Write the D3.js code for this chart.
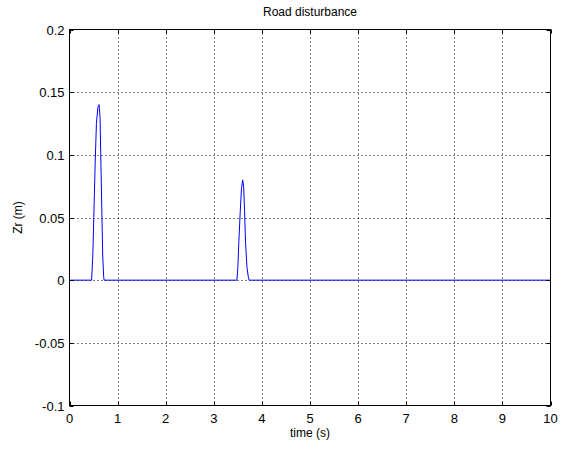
<!DOCTYPE html>
<html><head><meta charset="utf-8">
<script src="https://cdn.jsdelivr.net/npm/d3@7"></script>
<style>body{margin:0;background:#fff;} text{font-family:"Liberation Sans",Arial,sans-serif;}</style>
</head><body><svg id="c" width="561" height="452"></svg>
<script>
const timeVals = [0, 0.46, 0.485, 0.505, 0.535, 0.56, 0.59, 0.615, 0.635, 0.65, 0.67, 0.69, 0.71, 0.72,
                  3.48, 3.50, 3.52, 3.55, 3.575, 3.60, 3.62, 3.64, 3.66, 3.69, 3.72, 3.735, 10];
const zrVals   = [0, 0, 0.02, 0.05, 0.095, 0.125, 0.138, 0.14, 0.13, 0.10, 0.06, 0.02, 0.003, 0,
                  0, 0.01, 0.03, 0.055, 0.073, 0.08, 0.075, 0.055, 0.03, 0.01, 0.002, 0, 0];
const xTicks = [0,1,2,3,4,5,6,7,8,9,10];
const yTicks = [-0.1,-0.05,0,0.05,0.1,0.15,0.2];
const yTickLabels = ["-0.1","-0.05","0","0.05","0.1","0.15","0.2"];

const L=69.5, R=550.5, T=29.5, B=405.5;
const svg=d3.select("#c");
const x=d3.scaleLinear().domain([0,10]).range([L,R]);
const y=d3.scaleLinear().domain([-0.1,0.2]).range([B,T]);

// grid
const g=svg.append("g");
g.selectAll(".vx").data(xTicks.slice(1,-1)).join("line")
 .attr("x1",d=>Math.round(x(d))+0.5).attr("x2",d=>Math.round(x(d))+0.5).attr("y1",T).attr("y2",B)
 .attr("stroke","#000").attr("stroke-width",1).attr("stroke-dasharray","1,3");
g.selectAll(".hy").data(yTicks.slice(1,-1)).join("line")
 .attr("y1",d=>Math.round(y(d))+0.5).attr("y2",d=>Math.round(y(d))+0.5).attr("x1",L).attr("x2",R)
 .attr("stroke","#000").attr("stroke-width",1).attr("stroke-dasharray","1,3");

// line
const line=d3.line().x((d,i)=>x(timeVals[i])).y(d=>y(d));
svg.append("path").attr("d",line(zrVals)).attr("fill","none").attr("stroke","#0000ff").attr("stroke-width",1);

// box
svg.append("rect").attr("x",L).attr("y",T).attr("width",R-L).attr("height",B-T)
 .attr("fill","none").attr("stroke","#000").attr("stroke-width",1);

// ticks inside
const tl=4;
xTicks.forEach(d=>{
  const px=Math.round(x(d))+0.5;
  svg.append("line").attr("x1",px).attr("x2",px).attr("y1",B).attr("y2",B-tl).attr("stroke","#000");
  svg.append("line").attr("x1",px).attr("x2",px).attr("y1",T).attr("y2",T+tl).attr("stroke","#000");
});
yTicks.forEach(d=>{
  const py=Math.round(y(d))+0.5;
  svg.append("line").attr("y1",py).attr("y2",py).attr("x1",L).attr("x2",L+tl).attr("stroke","#000");
  svg.append("line").attr("y1",py).attr("y2",py).attr("x1",R).attr("x2",R-tl).attr("stroke","#000");
});

// labels
svg.selectAll(".xl").data(xTicks).join("text")
 .attr("x",d=>x(d)).attr("y",B+17).attr("text-anchor","middle").attr("font-size",13).text(d=>d);
svg.selectAll(".yl").data(yTicks).join("text")
 .attr("x",L-5).attr("y",(d)=>y(d)+5).attr("text-anchor","end").attr("font-size",13).text((d,i)=>yTickLabels[i]);

svg.append("text").attr("x",(L+R)/2).attr("y",437).attr("text-anchor","middle").attr("font-size",12).text("time (s)");
svg.append("text").attr("transform",`translate(22,${(T+B)/2}) rotate(-90)`).attr("text-anchor","middle").attr("font-size",12).text("Zr (m)");
svg.append("text").attr("x",(L+R)/2).attr("y",16).attr("text-anchor","middle").attr("font-size",12).text("Road disturbance");
</script></body></html>
